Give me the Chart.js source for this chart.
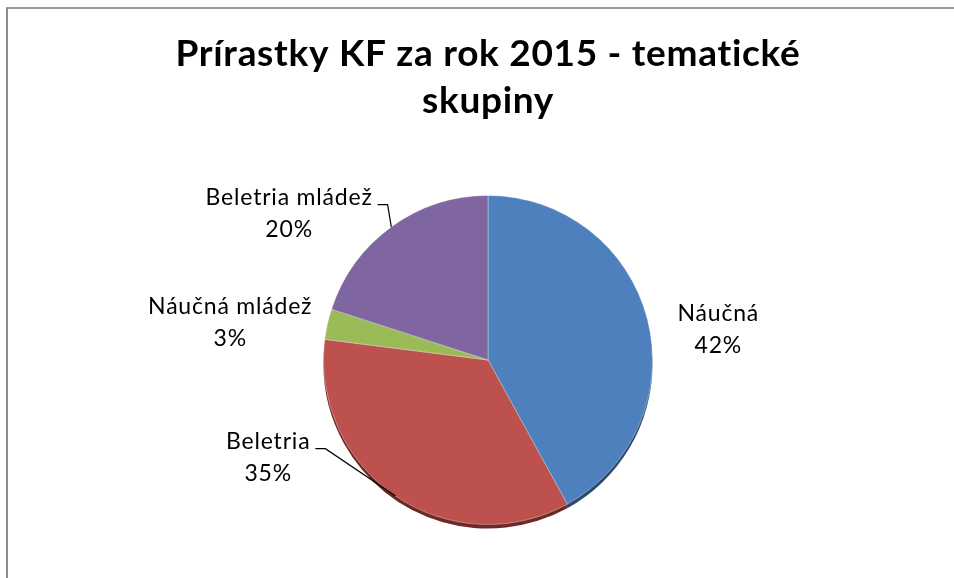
<!DOCTYPE html>
<html>
<head>
<meta charset="utf-8">
<script src="https://cdn.jsdelivr.net/npm/chart.js@4/dist/chart.umd.min.js"></script>
<style>
    html, body { margin: 0; padding: 0; background: #fff; }
    #wrap { position: relative; width: 954px; height: 578px; overflow: hidden; }
    #frame {
        position: absolute; left: 6px; top: 7px; width: 1000px; height: 600px;
        border-left: 2px solid #8c8c8c; border-top: 2px solid #9a9a9a;
    }
    canvas { position: absolute; left: 0; top: 0; }
</style>
</head>
<body>
<div id="wrap">
    <div id="frame"></div>
    <canvas id="chart" width="954" height="578"></canvas>
</div>
<script>
    // data
    const categories = ['Náučná', 'Beletria', 'Náučná mládež', 'Beletria mládež'];
    const shares = [42, 35, 3, 20];
    const colors = ['#4e80bd', '#bd514e', '#9bbb59', '#8066a1'];
    const rimColors = ['#2c4a70', '#6e2826', '#5a6e33', '#4a3a5e'];

    // label block position relative to pie center, in radius units
    const labelOffsets = [[1.40, -0.236], [-1.336, 0.539], [-1.567, -0.279], [-1.209, -0.945]];

    const labelFont = '23px Lato';
    const lineGap = 32;

    // wider spacing so Lato comes closer to the original font width
    const spacingPlugin = {
        id: 'spacing',
        beforeDraw(chart) {
            chart.ctx.letterSpacing = '0.7px';
        }
    };

    // darker rim under the pie (3d look)
    const rimPlugin = {
        id: 'rim',
        beforeDatasetsDraw(chart) {
            const ctx = chart.ctx;
            const arcs = chart.getDatasetMeta(0).data;
            ctx.save();
            arcs.forEach((arc, i) => {
                ctx.beginPath();
                ctx.moveTo(arc.x, arc.y + 4);
                ctx.arc(arc.x, arc.y + 4, arc.outerRadius, arc.startAngle, arc.endAngle);
                ctx.closePath();
                ctx.fillStyle = rimColors[i];
                ctx.fill();
            });
            ctx.restore();
        }
    };

    // outside labels with leader lines
    const labelPlugin = {
        id: 'outLabels',
        afterDatasetsDraw(chart) {
            const ctx = chart.ctx;
            const arcs = chart.getDatasetMeta(0).data;
            ctx.save();
            ctx.font = labelFont;
            ctx.letterSpacing = '0.8px';
            ctx.fillStyle = '#000';
            ctx.textAlign = 'center';
            ctx.textBaseline = 'alphabetic';
            arcs.forEach((arc, i) => {
                const r = arc.outerRadius;
                const cx = arc.x + labelOffsets[i][0] * r;
                const by = arc.y + labelOffsets[i][1] * r;
                const name = categories[i];
                ctx.fillText(name, cx, by);
                ctx.fillText(shares[i] + '%', cx, by + lineGap);

                const mid = (arc.startAngle + arc.endAngle) / 2;
                const ex = arc.x + Math.cos(mid) * r;
                const ey = arc.y + Math.sin(mid) * r;
                const half = ctx.measureText(name).width / 2;
                const side = ex > cx ? 1 : -1;
                const x1 = cx + side * (half + 5);
                const x2 = x1 + side * 10;
                if (Math.hypot(ex - x2, ey - by) < 20) return;
                ctx.beginPath();
                ctx.moveTo(x1, by);
                ctx.lineTo(x2, by);
                ctx.lineTo(ex, ey);
                ctx.strokeStyle = '#000';
                ctx.lineWidth = 1.2;
                ctx.stroke();
            });
            ctx.restore();
        }
    };

    const ctx = document.getElementById('chart').getContext('2d');
    new Chart(ctx, {
        type: 'pie',
        data: {
            labels: categories,
            datasets: [{
                data: shares,
                backgroundColor: colors,
                borderColor: 'rgba(255,255,255,0.35)',
                borderWidth: 1
            }]
        },
        options: {
            responsive: false,
            animation: false,
            layout: { padding: { left: 22, right: 0, top: 0, bottom: 53 } },
            plugins: {
                legend: { display: false },
                tooltip: { enabled: false },
                title: {
                    display: true,
                    text: ['Prírastky KF za rok 2015 - tematické', 'skupiny'],
                    color: '#000',
                    font: { family: 'Lato', size: 37, weight: 'bold', lineHeight: 1.27 },
                    padding: { top: 31, bottom: 70 }
                }
            }
        },
        plugins: [spacingPlugin, rimPlugin, labelPlugin]
    });
</script>
</body>
</html>
